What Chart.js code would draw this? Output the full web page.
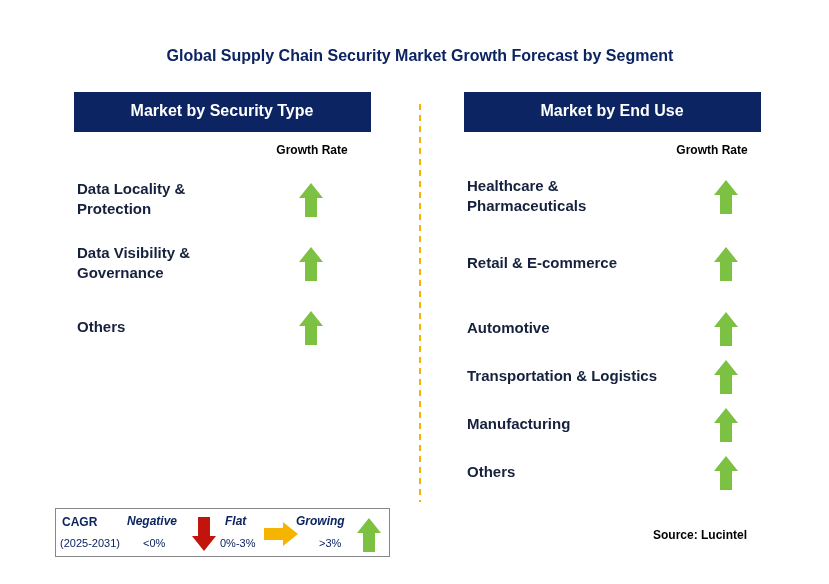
<!DOCTYPE html>
<html><head><meta charset="utf-8">
<script src="https://cdn.jsdelivr.net/npm/chart.js@4"></script>
<style>html,body{margin:0;padding:0;background:#fff}#c{display:block}</style>
</head><body>
<div style="width:829px;height:584px"><canvas id="c"></canvas></div>
<script>
var title = 'Global Supply Chain Security Market Growth Forecast by Segment';
var leftHeader = 'Market by Security Type';
var rightHeader = 'Market by End Use';
var leftCats = [['Data Locality &', 'Protection'], ['Data Visibility &', 'Governance'], ['Others']];
var leftTrend = ['up', 'up', 'up'];
var rightCats = [['Healthcare &', 'Pharmaceuticals'], ['Retail & E-commerce'], ['Automotive'], ['Transportation & Logistics'], ['Manufacturing'], ['Others']];
var rightTrend = ['up', 'up', 'up', 'up', 'up', 'up'];

var NAVY = '#0c2461', GREEN = '#7cc142', FONT = '"Liberation Sans", Arial, sans-serif';
// row layout
var leftRowY = function(i) { return 200 + i * 64; };
var rightRowY = function(i) { return i === 0 ? 197 : (i === 1 ? 264 : 329 + (i - 2) * 48); };

function pts(trend, x, rowY) {
  return trend.map(function(t, i) { return {x: x, y: rowY(i), t: t}; });
}

function arrow(ctx, cx, cy, dir, color) {
  var h = 34, hw = 12, sw = 6, hh = 15;
  ctx.save();
  ctx.translate(cx, cy);
  if (dir === 'down') ctx.scale(1, -1);
  if (dir === 'right') ctx.rotate(Math.PI / 2);
  ctx.beginPath();
  ctx.moveTo(0, -h / 2);
  ctx.lineTo(hw, -h / 2 + hh);
  ctx.lineTo(sw, -h / 2 + hh);
  ctx.lineTo(sw, h / 2);
  ctx.lineTo(-sw, h / 2);
  ctx.lineTo(-sw, -h / 2 + hh);
  ctx.lineTo(-hw, -h / 2 + hh);
  ctx.closePath();
  ctx.fillStyle = color;
  ctx.fill();
  ctx.restore();
}

var deco = {
  id: 'deco',
  afterDatasetsDraw: function(chart) {
    var ctx = chart.ctx;
    ctx.save();
    ctx.textBaseline = 'middle';
    ctx.fillStyle = NAVY;
    ctx.textAlign = 'center';
    ctx.font = 'bold 16px ' + FONT;
    ctx.fillText(title, 420, 57);
    // headers
    [[74, leftHeader], [464, rightHeader]].forEach(function(h) {
      ctx.fillStyle = NAVY;
      ctx.fillRect(h[0], 92, 297, 40);
      ctx.fillStyle = '#fff';
      ctx.font = 'bold 16px ' + FONT;
      ctx.fillText(h[1], h[0] + 148, 112);
    });
    ctx.fillStyle = '#000';
    ctx.font = 'bold 12px ' + FONT;
    ctx.fillText('Growth Rate', 312, 151);
    ctx.fillText('Growth Rate', 712, 151);
    // dashed divider
    ctx.strokeStyle = '#f5b400';
    ctx.lineWidth = 2;
    ctx.setLineDash([6, 5]);
    ctx.beginPath(); ctx.moveTo(420, 104); ctx.lineTo(420, 502); ctx.stroke();
    ctx.setLineDash([]);
    // labels
    ctx.textAlign = 'left';
    ctx.font = 'bold 15px ' + FONT;
    ctx.fillStyle = '#16213e';
    function labels(cats, x, rowY) {
      cats.forEach(function(c, i) {
        var y0 = rowY(i) - (c.length - 1) * 10;
        c.forEach(function(l, j) { ctx.fillText(l, x, y0 + j * 20); });
      });
    }
    labels(leftCats, 77, leftRowY);
    labels(rightCats, 467, rightRowY);
    // arrows from dataset points
    chart.data.datasets.forEach(function(ds, di) {
      chart.getDatasetMeta(di).data.forEach(function(p, i) {
        arrow(ctx, p.x, p.y, ds.data[i].t, GREEN);
      });
    });
    // legend box
    ctx.strokeStyle = '#888'; ctx.lineWidth = 1;
    ctx.strokeRect(55.5, 508.5, 334, 48);
    ctx.fillStyle = NAVY;
    ctx.font = 'bold 12px ' + FONT;
    ctx.fillText('CAGR', 62, 523);
    ctx.font = '11px ' + FONT;
    ctx.fillText('(2025-2031)', 60, 544);
    ctx.font = 'bold italic 12px ' + FONT;
    ctx.fillText('Negative', 127, 522);
    ctx.fillText('Flat', 225, 522);
    ctx.fillText('Growing', 296, 522);
    ctx.font = '11px ' + FONT;
    ctx.fillText('<0%', 143, 544);
    ctx.fillText('0%-3%', 220, 544);
    ctx.fillText('>3%', 319, 544);
    arrow(ctx, 204, 534, 'down', '#c0140c');
    arrow(ctx, 281, 534, 'right', '#f5b400');
    arrow(ctx, 369, 535, 'up', GREEN);
    ctx.fillStyle = '#000';
    ctx.font = 'bold 12px ' + FONT;
    ctx.fillText('Source: Lucintel', 653, 536);
    ctx.restore();
  }
};

new Chart(document.getElementById('c'), {
  type: 'scatter',
  data: {
    datasets: [
      {data: pts(leftTrend, 311, leftRowY), pointRadius: 0},
      {data: pts(rightTrend, 726, rightRowY), pointRadius: 0}
    ]
  },
  options: {
    responsive: true, maintainAspectRatio: false, animation: false,
    layout: {padding: 0},
    plugins: {legend: {display: false}, tooltip: {enabled: false}},
    scales: {
      x: {type: 'linear', min: 0, max: 829, display: false},
      y: {type: 'linear', min: 0, max: 584, reverse: true, display: false}
    }
  },
  plugins: [deco]
});
</script>
</body></html>
